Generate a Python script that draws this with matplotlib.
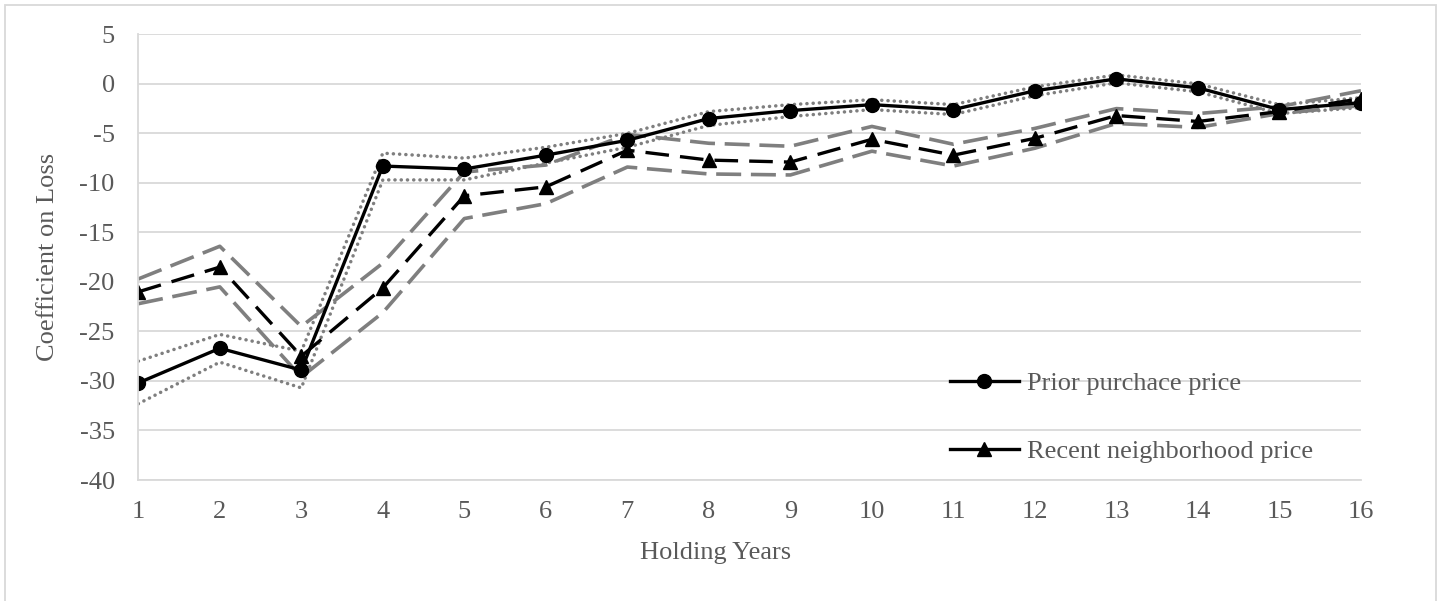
import matplotlib
matplotlib.use("Agg")
import matplotlib.pyplot as plt
from matplotlib.lines import Line2D
from matplotlib.patches import Rectangle

# Coefficient estimates with confidence bands, by holding years
years = list(range(1, 17))

prior = [-30.2, -26.7, -28.9, -8.3, -8.6, -7.2, -5.7, -3.5, -2.7, -2.1, -2.6, -0.7, 0.5, -0.4, -2.6, -1.9]
prior_hi = [-28.0, -25.3, -27.0, -7.0, -7.5, -6.4, -5.0, -2.8, -2.1, -1.6, -2.1, -0.3, 0.9, 0.0, -2.1, -1.4]
prior_lo = [-32.3, -28.1, -30.7, -9.7, -9.7, -8.0, -6.4, -4.2, -3.3, -2.6, -3.1, -1.2, 0.1, -0.8, -3.0, -2.4]

recent = [-21.0, -18.5, -27.5, -20.6, -11.3, -10.4, -6.7, -7.7, -7.9, -5.6, -7.2, -5.5, -3.2, -3.8, -2.8, -1.5]
recent_hi = [-19.7, -16.4, -24.5, -18.1, -8.9, -8.2, -5.1, -6.0, -6.3, -4.3, -6.1, -4.5, -2.5, -3.0, -2.3, -0.7]
recent_lo = [-22.2, -20.5, -29.6, -23.1, -13.6, -12.1, -8.4, -9.1, -9.2, -6.8, -8.3, -6.5, -4.0, -4.4, -3.0, -2.2]

labels = ["Prior purchace price", "Recent neighborhood price"]

plt.rcParams["font.family"] = ["Liberation Serif", "DejaVu Serif"]
plt.rcParams["lines.scale_dashes"] = False
plt.rcParams["axes.unicode_minus"] = False

text_color = "#595959"
grid_color = "#d9d9d9"
fs = 19

fig = plt.figure(figsize=(14.42, 6.01), dpi=100)
ax = fig.add_axes([0.0959, 0.2013, 0.8479, 0.7416])

# chart border
fig.patches.append(Rectangle((5 / 1442, -0.02), 1431 / 1442, 1.0117, transform=fig.transFigure,
                             fill=False, edgecolor=grid_color, linewidth=1.3))

# confidence bands
dotted = dict(color="#7f7f7f", linewidth=2.5, linestyle=(0, (0.1, 4.4)), dash_capstyle="round")
dashed_grey = dict(color="#7f7f7f", linewidth=2.6, linestyle=(0, (18, 7)))
ax.plot(years, prior_hi, **dotted)
ax.plot(years, prior_lo, **dotted)
ax.plot(years, recent_hi, **dashed_grey)
ax.plot(years, recent_lo, **dashed_grey)

# point estimates
ax.plot(years, prior, color="black", linewidth=2.4, marker="o", markersize=10)
ax.plot(years, recent, color="black", linewidth=2.4, linestyle=(0, (17, 8)),
        marker="^", markersize=10.5)

ax.set_xlim(1, 16)
ax.set_ylim(-40, 5)
ax.set_xticks(years)
ax.set_yticks(range(-40, 6, 5))
ax.grid(axis="y", color=grid_color, linewidth=1.3)
ax.set_axisbelow(True)
for side in ["top", "right"]:
    ax.spines[side].set_visible(False)
for side in ["left", "bottom"]:
    ax.spines[side].set_color(grid_color)
    ax.spines[side].set_linewidth(1.3)
ax.tick_params(axis="both", length=0, labelsize=fs, labelcolor=text_color)
ax.tick_params(axis="y", pad=17)
ax.tick_params(axis="x", pad=15)

ax.set_xlabel("Holding Years", fontsize=fs, color=text_color)
ax.set_ylabel("Coefficient on Loss", fontsize=fs, color=text_color)
ax.xaxis.set_label_coords(0.472, -0.164)
ax.xaxis.label.set_verticalalignment("center")
ax.yaxis.set_label_coords(-0.074, 0.5)
ax.yaxis.label.set_verticalalignment("center")

handles = [
    Line2D([], [], color="black", linewidth=2.4, marker="o", markersize=10),
    Line2D([], [], color="black", linewidth=2.4, marker="^", markersize=10.5),
]
leg = ax.legend(handles, labels, loc="center left", bbox_to_anchor=(0.664, 0.140),
                frameon=False, fontsize=fs, handlelength=2.6, handletextpad=0.3,
                labelspacing=1.69, borderaxespad=0, borderpad=0)
for t in leg.get_texts():
    t.set_color(text_color)

fig.savefig("out.png", dpi=100)
